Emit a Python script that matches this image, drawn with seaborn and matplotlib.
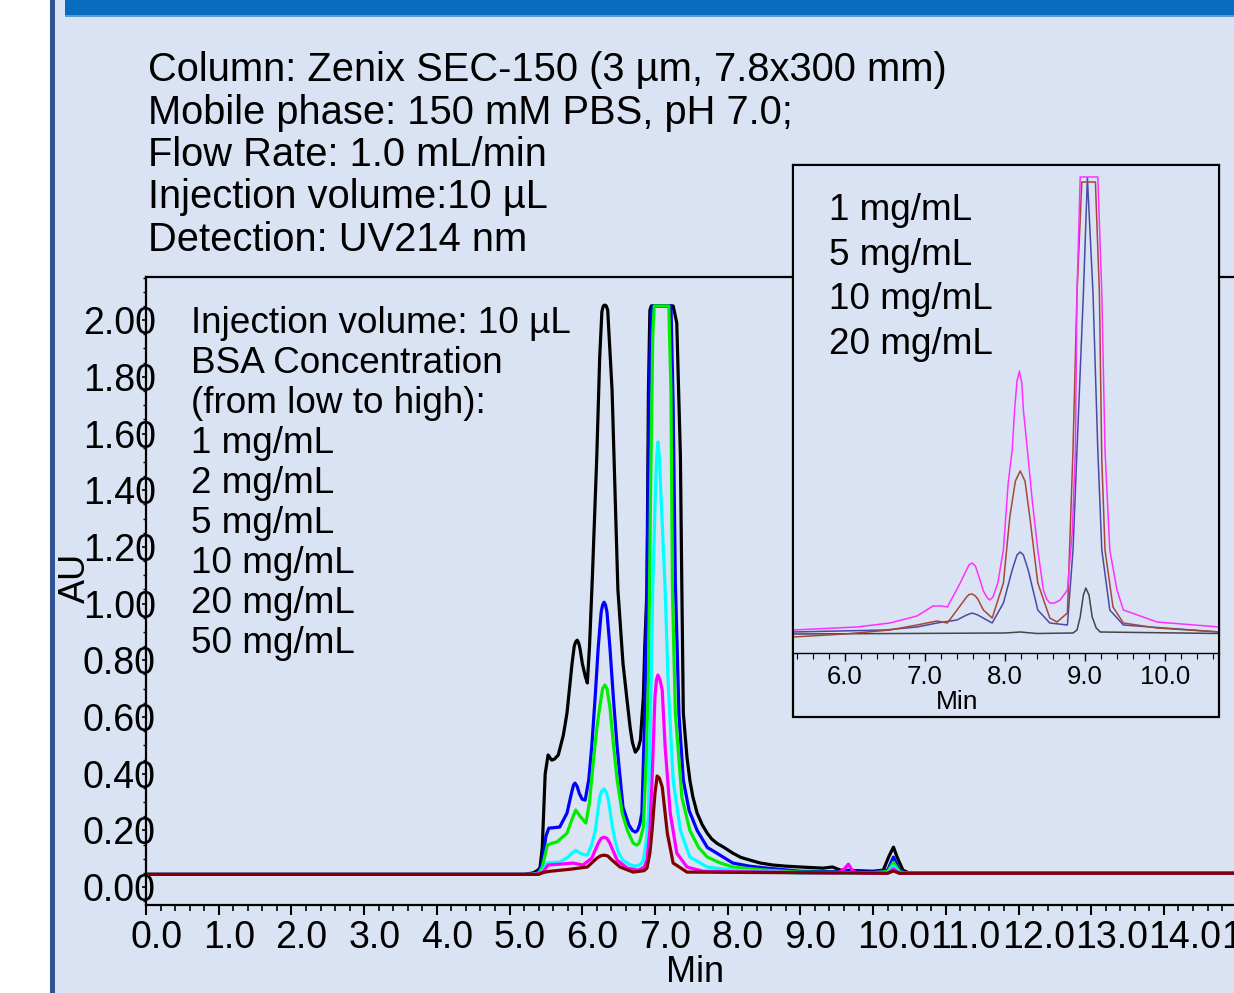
import numpy as np
import pandas as pd
import matplotlib
matplotlib.use("Agg")
import matplotlib.pyplot as plt
import seaborn as sns
from matplotlib.patches import Rectangle
from matplotlib.ticker import MultipleLocator, FormatStrFormatter
from matplotlib.transforms import ScaledTranslation

# ---------------- data ----------------
# main chromatogram: BSA 1..50 mg/mL, time (min) and absorbance (AU)
t_50 = [0, 5.20, 5.32, 5.36, 5.40, 5.42, 5.45, 5.49, 5.53, 5.58, 5.62, 5.67, 5.74, 5.79, 5.86, 5.89,
        5.91, 5.93, 5.95, 5.97, 6.00, 6.04, 6.07, 6.10, 6.14, 6.20, 6.24, 6.27, 6.29, 6.31, 6.33, 6.35,
        6.41, 6.45, 6.49, 6.56, 6.62, 6.66, 6.69, 6.73, 6.77, 6.80, 6.84, 6.86, 6.89, 6.91, 6.93, 6.95,
        7.25, 7.30, 7.35, 7.37, 7.39, 7.44, 7.48, 7.52, 7.58, 7.65, 7.72, 7.78, 7.85, 7.95, 8.07, 8.18,
        8.31, 8.45, 8.62, 8.80, 9.00, 9.31, 9.38, 9.44, 9.50, 9.55, 10.00, 10.14, 10.22, 10.28, 10.34, 10.41,
        10.50, 15.5]
v_50 = [0.045, 0.045, 0.05, 0.055, 0.062, 0.07, 0.14, 0.40, 0.466, 0.448, 0.452, 0.466, 0.536, 0.614, 0.79, 0.85,
        0.865, 0.871, 0.862, 0.84, 0.79, 0.745, 0.72, 0.85, 1.10, 1.52, 1.87, 2.03, 2.05, 2.053, 2.05, 2.035,
        1.753, 1.40, 1.05, 0.79, 0.65, 0.56, 0.51, 0.476, 0.49, 0.519, 0.67, 0.85, 1.05, 1.75, 2.035, 2.05,
        2.05, 1.99, 1.517, 1.048, 0.614, 0.459, 0.377, 0.32, 0.261, 0.22, 0.19, 0.17, 0.155, 0.14, 0.12, 0.105,
        0.095, 0.085, 0.078, 0.074, 0.071, 0.067, 0.069, 0.071, 0.065, 0.060, 0.056, 0.060, 0.11, 0.141, 0.10, 0.06,
        0.049, 0.049]

t_20 = [0, 5.30, 5.40, 5.45, 5.50, 5.54, 5.62, 5.69, 5.79, 5.85, 5.88, 5.90, 5.93, 5.96, 6.00, 6.04,
        6.09, 6.13, 6.18, 6.22, 6.26, 6.28, 6.30, 6.32, 6.34, 6.38, 6.43, 6.48, 6.56, 6.64, 6.69, 6.73,
        6.76, 6.79, 6.82, 6.86, 6.89, 6.92, 6.95, 6.97, 7.22, 7.25, 7.28, 7.33, 7.39, 7.47, 7.58, 7.72,
        7.85, 8.07, 8.30, 8.54, 9.00, 10.00, 10.20, 10.28, 10.36, 10.45, 15.5]
v_20 = [0.045, 0.045, 0.05, 0.085, 0.18, 0.208, 0.21, 0.212, 0.261, 0.33, 0.36, 0.367, 0.355, 0.33, 0.31, 0.307,
        0.38, 0.494, 0.68, 0.847, 0.97, 0.995, 1.005, 0.995, 0.97, 0.847, 0.66, 0.494, 0.282, 0.22, 0.20, 0.194,
        0.20, 0.22, 0.261, 0.614, 1.05, 1.75, 2.03, 2.05, 2.05, 1.70, 1.08, 0.61, 0.377, 0.27, 0.20, 0.14,
        0.12, 0.085, 0.074, 0.067, 0.056, 0.053, 0.06, 0.106, 0.06, 0.049, 0.049]

t_10 = [0, 5.30, 5.40, 5.45, 5.52, 5.58, 5.65, 5.79, 5.86, 5.91, 5.97, 6.05, 6.10, 6.15, 6.20, 6.24,
        6.28, 6.31, 6.34, 6.38, 6.43, 6.48, 6.55, 6.62, 6.70, 6.75, 6.78, 6.80, 6.84, 6.88, 6.91, 6.94,
        6.97, 6.99, 7.19, 7.22, 7.24, 7.28, 7.37, 7.48, 7.60, 7.72, 7.90, 8.07, 8.30, 8.54, 9.00, 10.00,
        10.20, 10.28, 10.36, 10.45, 15.5]
v_10 = [0.045, 0.045, 0.05, 0.07, 0.148, 0.155, 0.159, 0.19, 0.24, 0.272, 0.25, 0.226, 0.30, 0.437, 0.56, 0.635,
        0.70, 0.713, 0.70, 0.635, 0.50, 0.377, 0.26, 0.201, 0.155, 0.148, 0.155, 0.17, 0.212, 0.45, 0.73, 1.40,
        1.95, 2.05, 2.05, 1.75, 1.048, 0.614, 0.317, 0.20, 0.14, 0.106, 0.085, 0.071, 0.065, 0.06, 0.053, 0.051,
        0.055, 0.088, 0.055, 0.049, 0.049]

t_5 = [0, 5.32, 5.42, 5.47, 5.52, 5.60, 5.69, 5.80, 5.86, 5.91, 5.97, 6.02, 6.07, 6.13, 6.18, 6.24,
       6.27, 6.30, 6.33, 6.36, 6.41, 6.45, 6.50, 6.56, 6.65, 6.73, 6.80, 6.84, 6.88, 6.91, 6.94, 6.97,
       7.00, 7.02, 7.04, 7.06, 7.08, 7.14, 7.18, 7.25, 7.35, 7.48, 7.72, 8.07, 9.00, 10.00, 10.20, 10.28,
       10.36, 10.45, 15.5]
v_5 = [0.045, 0.045, 0.05, 0.065, 0.085, 0.087, 0.088, 0.105, 0.12, 0.13, 0.12, 0.115, 0.113, 0.15, 0.201, 0.317,
       0.34, 0.346, 0.335, 0.307, 0.22, 0.166, 0.12, 0.095, 0.08, 0.074, 0.08, 0.095, 0.16, 0.261, 0.614, 1.05,
       1.34, 1.50, 1.57, 1.52, 1.40, 1.05, 0.73, 0.377, 0.20, 0.106, 0.071, 0.06, 0.049, 0.049, 0.051, 0.075,
       0.051, 0.049, 0.049]

t_2 = [0, 5.35, 5.46, 5.53, 5.69, 5.87, 6.01, 6.13, 6.22, 6.26, 6.30, 6.34, 6.38, 6.48, 6.62, 6.77,
       6.85, 6.89, 6.93, 6.96, 7.00, 7.02, 7.04, 7.07, 7.10, 7.14, 7.21, 7.30, 7.44, 7.66, 9.50, 9.59,
       9.66, 9.72, 9.80, 10.20, 10.28, 10.36, 15.5]
v_2 = [0.045, 0.045, 0.053, 0.078, 0.081, 0.085, 0.078, 0.102, 0.155, 0.172, 0.176, 0.172, 0.155, 0.095, 0.067, 0.06,
       0.07, 0.095, 0.20, 0.377, 0.67, 0.73, 0.748, 0.73, 0.695, 0.494, 0.261, 0.12, 0.071, 0.056, 0.050, 0.06,
       0.081, 0.056, 0.050, 0.049, 0.065, 0.049, 0.049]

t_1 = [0, 5.40, 5.47, 5.56, 5.83, 6.07, 6.20, 6.25, 6.30, 6.35, 6.41, 6.52, 6.70, 6.85, 6.89, 6.93,
       6.96, 7.00, 7.03, 7.06, 7.10, 7.17, 7.25, 7.44, 10.20, 10.28, 10.36, 15.5]
v_1 = [0.045, 0.045, 0.052, 0.056, 0.063, 0.071, 0.102, 0.11, 0.113, 0.11, 0.095, 0.071, 0.053, 0.058, 0.067, 0.12,
       0.20, 0.33, 0.392, 0.385, 0.353, 0.19, 0.085, 0.053, 0.049, 0.057, 0.049, 0.049]

main_labels = ["50 mg/mL", "20 mg/mL", "10 mg/mL", "5 mg/mL", "2 mg/mL", "1 mg/mL"]
main_colors = ["#000000", "#0000ff", "#00ee00", "#00ffff", "#ff00ff", "#800000"]

# inset chromatogram (relative response)
ti_20 = [5.35, 6.15, 6.56, 6.90, 7.10, 7.20, 7.28, 7.44, 7.50, 7.55, 7.59, 7.63, 7.68, 7.73, 7.78, 7.81,
         7.85, 7.91, 7.98, 8.04, 8.09, 8.12, 8.15, 8.18, 8.21, 8.23, 8.28, 8.34, 8.41, 8.48, 8.52, 8.56,
         8.62, 8.69, 8.78, 8.84, 8.88, 8.90, 8.94, 9.16, 9.21, 9.25, 9.31, 9.40, 9.48, 9.90, 10.68]
vi_20 = [0.03, 0.06, 0.10, 0.17, 0.27, 0.27, 0.26, 0.50, 0.60, 0.68, 0.70, 0.67, 0.55, 0.42, 0.35, 0.33,
         0.36, 0.50, 0.83, 1.50, 1.83, 2.23, 2.52, 2.62, 2.50, 2.23, 1.83, 1.33, 0.83, 0.43, 0.34, 0.30,
         0.30, 0.33, 0.43, 1.00, 1.83, 3.40, 4.56, 4.56, 3.40, 1.83, 0.83, 0.43, 0.23, 0.11, 0.06]
ti_10 = [5.35, 6.00, 6.56, 6.90, 7.15, 7.28, 7.40, 7.52, 7.55, 7.59, 7.63, 7.66, 7.73, 7.84, 7.98, 8.06,
         8.13, 8.19, 8.25, 8.31, 8.41, 8.56, 8.65, 8.78, 8.85, 8.90, 8.96, 9.13, 9.18, 9.21, 9.25, 9.35,
         9.48, 9.90, 10.68]
vi_10 = [-0.04, -0.01, 0.03, 0.08, 0.12, 0.10, 0.23, 0.36, 0.385, 0.39, 0.37, 0.34, 0.23, 0.15, 0.50, 1.16,
         1.52, 1.62, 1.52, 1.16, 0.50, 0.15, 0.11, 0.20, 1.83, 3.40, 4.51, 4.51, 3.40, 1.73, 0.83, 0.26,
         0.10, 0.05, 0.01]
ti_5 = [5.35, 6.50, 6.90, 7.15, 7.40, 7.52, 7.59, 7.66, 7.84, 7.98, 8.09, 8.15, 8.19, 8.23, 8.29, 8.41,
        8.56, 8.78, 8.85, 8.90, 8.98, 9.03, 9.10, 9.16, 9.21, 9.31, 9.48, 10.68]
vi_5 = [0.01, 0.03, 0.06, 0.10, 0.13, 0.18, 0.20, 0.18, 0.10, 0.30, 0.63, 0.78, 0.81, 0.78, 0.63, 0.23,
        0.10, 0.08, 0.83, 1.83, 3.40, 4.55, 3.40, 1.83, 0.83, 0.23, 0.08, 0.01]
ti_1 = [5.35, 8.00, 8.19, 8.40, 8.85, 8.90, 8.94, 8.98, 9.01, 9.05, 9.09, 9.14, 9.19, 10.68]
vi_1 = [-0.01, 0.0, 0.01, -0.005, 0.0, 0.03, 0.16, 0.38, 0.45, 0.38, 0.16, 0.05, 0.01, -0.005]

inset_labels = ["1 mg/mL", "5 mg/mL", "10 mg/mL", "20 mg/mL"]
inset_colors = ["#454545", "#4a4aa6", "#a5473c", "#ff30ff"]

header_lines = ["Column: Zenix SEC-150 (3 µm, 7.8x300 mm)",
                "Mobile phase: 150 mM PBS, pH 7.0;",
                "Flow Rate: 1.0 mL/min",
                "Injection volume:10 µL",
                "Detection: UV214 nm"]
main_note = ["Injection volume: 10 µL", "BSA Concentration", "(from low to high):",
             "1 mg/mL", "2 mg/mL", "5 mg/mL", "10 mg/mL", "20 mg/mL", "50 mg/mL"]

# ---------------- figure ----------------
sns.set_theme(style="white")
plt.rcParams['font.family'] = ['Liberation Sans', 'DejaVu Sans']

BG = '#dae3f3'
W, H = 1234, 993
fig = plt.figure(figsize=(W / 100, H / 100), dpi=100, facecolor=BG)


def fx(px):
    return px / W


def fy(py):
    return 1 - py / H


# frame decorations
fig.add_artist(Rectangle((0, 0), fx(50), 1, transform=fig.transFigure, facecolor='white',
                         edgecolor='none', zorder=-5))
fig.add_artist(Rectangle((fx(50), 0), fx(5), 1, transform=fig.transFigure, facecolor='#2f5597',
                         edgecolor='none', zorder=-5))
fig.add_artist(Rectangle((fx(65), fy(15)), 1, 15 / H, transform=fig.transFigure, facecolor='#0a6cbf',
                         edgecolor='none', zorder=-5))
fig.add_artist(Rectangle((fx(65), fy(17)), 1, 2 / H, transform=fig.transFigure, facecolor='#5b9bd5',
                         edgecolor='none', zorder=-5))

# main axes
ax = fig.add_axes([fx(146), fy(905), fx(1273 - 146), (905 - 277) / H])
ax.set_facecolor('none')

main_t = [t_50, t_20, t_10, t_5, t_2, t_1]
main_v = [v_50, v_20, v_10, v_5, v_2, v_1]
df_main = pd.concat([pd.DataFrame({'t': t, 'v': v, 'conc': lab})
                     for t, v, lab in zip(main_t, main_v, main_labels)], ignore_index=True)
sns.lineplot(data=df_main, x='t', y='v', hue='conc', hue_order=main_labels,
             palette=dict(zip(main_labels, main_colors)), estimator=None, sort=False,
             legend=False, linewidth=2.3, ax=ax, solid_joinstyle='round', solid_capstyle='round')

ax.set_xlim(0, 15.5)
ax.set_ylim(-0.063, 2.152)
ax.xaxis.set_major_locator(MultipleLocator(1.0))
ax.xaxis.set_minor_locator(MultipleLocator(0.2))
ax.xaxis.set_major_formatter(FormatStrFormatter('%.1f'))
ax.yaxis.set_major_locator(MultipleLocator(0.2))
ax.yaxis.set_minor_locator(MultipleLocator(0.05))
ax.yaxis.set_major_formatter(FormatStrFormatter('%.2f'))
for s in ['left', 'top', 'bottom']:
    ax.spines[s].set_visible(True)
    ax.spines[s].set_color('black')
    ax.spines[s].set_linewidth(1.6)
ax.spines['right'].set_visible(False)
ax.tick_params(axis='x', which='major', direction='out', length=7, width=1.5, labelsize=27,
               pad=4, colors='black', bottom=True)
ax.tick_params(axis='x', which='minor', direction='out', length=4, width=1.2, colors='black', bottom=True)
ax.tick_params(axis='y', which='major', direction='out', length=3, width=1.2, labelsize=27,
               pad=-10, colors='black', left=True)
ax.tick_params(axis='y', which='minor', direction='out', length=2, width=1.0, colors='black', left=True)
# x tick labels in the reference are left-aligned, starting a little left of each tick
shift = ScaledTranslation(-0.16, 0, fig.dpi_scale_trans)
for tick in ax.xaxis.get_major_ticks():
    tick.label1.set_horizontalalignment('left')
    tick.label1.set_transform(tick.label1.get_transform() + shift)
ax.set_xlabel('Min', fontsize=26, color='black')
ax.xaxis.set_label_coords((695 - 146) / 1127, (905 - 955) / 628)
ax.set_ylabel('AU', fontsize=26, color='black')
ax.yaxis.set_label_coords((93 - 146) / 1127, (905 - 578) / 628)

# inset frame
fig.add_artist(Rectangle((fx(793), fy(717)), fx(1219 - 793), (717 - 165) / H, transform=fig.transFigure,
                         facecolor=BG, edgecolor='black', linewidth=1.6, zorder=2))
ax2 = fig.add_axes([fx(793), fy(653), fx(1219 - 793), (653 - 165) / H])
ax2.set_zorder(3)
ax2.set_facecolor(BG)
inset_t = [ti_1, ti_5, ti_10, ti_20]
inset_v = [vi_1, vi_5, vi_10, vi_20]
df_in = pd.concat([pd.DataFrame({'t': t, 'v': v, 'conc': lab})
                   for t, v, lab in zip(inset_t, inset_v, inset_labels)], ignore_index=True)
sns.lineplot(data=df_in, x='t', y='v', hue='conc', hue_order=inset_labels,
             palette=dict(zip(inset_labels, inset_colors)), estimator=None, sort=False,
             legend=False, linewidth=1.1, ax=ax2, solid_joinstyle='round')
ax2.set_xlim(5.35, 10.675)
ax2.set_ylim(-0.20, 4.68)
ax2.xaxis.set_major_locator(MultipleLocator(1.0))
ax2.xaxis.set_minor_locator(MultipleLocator(0.2))
ax2.xaxis.set_major_formatter(FormatStrFormatter('%.1f'))
ax2.set_yticks([])
for s in ['left', 'top', 'bottom', 'right']:
    ax2.spines[s].set_visible(True)
    ax2.spines[s].set_color('black')
    ax2.spines[s].set_linewidth(1.5)
ax2.spines['bottom'].set_linewidth(1.0)
ax2.tick_params(axis='x', which='major', direction='out', length=6, width=1.0, labelsize=18.5,
                pad=3, colors='black', bottom=True)
ax2.tick_params(axis='x', which='minor', direction='out', length=4, width=0.8, colors='black', bottom=True)
ax2.set_xlabel('Min', fontsize=19, color='black')
ax2.xaxis.set_label_coords((957 - 793) / 426, (653 - 690) / 488)
ax2.set_ylabel('')

# texts
for i, line in enumerate(header_lines):
    fig.text(fx(148), fy(81 + 42.5 * i), line, fontsize=28.7, va='baseline', ha='left', color='black')
for i, line in enumerate(main_note):
    fig.text(fx(191), fy(333 + 40 * i), line, fontsize=26.6, va='baseline', ha='left', color='black')
for i, line in enumerate(inset_labels):
    fig.text(fx(829), fy(220 + 44.7 * i), line, fontsize=26.6, va='baseline', ha='left', color='black',
             zorder=6)

fig.savefig('out.png', dpi=100, facecolor=BG)
